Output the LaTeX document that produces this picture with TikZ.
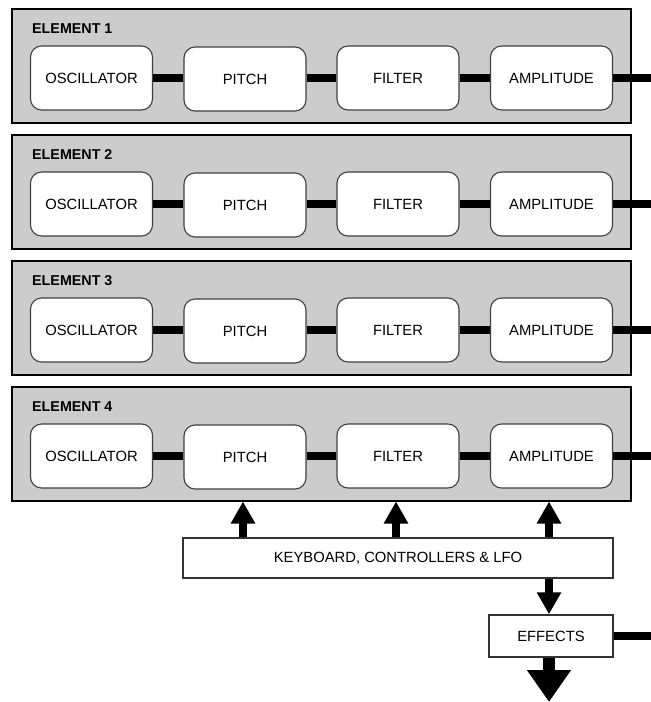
\documentclass[tikz,border=0pt]{standalone}
\usepackage{fontspec}
\setmainfont{Liberation Sans}
\usetikzlibrary{arrows.meta}
\begin{document}
\begin{tikzpicture}[x=1pt,y=-1pt,
  panel/.style={draw=black,line width=2pt,fill=black!20,minimum width=619pt,minimum height=114pt,inner sep=0pt},
  unit/.style={draw=black!75,line width=1.1pt,fill=white,rounded corners=11pt,minimum width=122pt,minimum height=64pt,inner sep=0pt,font=\fontsize{14.8}{17}\selectfont},
  plainbox/.style={draw=black!80,line width=1.4pt,fill=white,inner sep=0pt,font=\fontsize{14.8}{17}\selectfont},
  elabel/.style={anchor=west,inner sep=0pt,font=\bfseries\fontsize{14.3}{17}\selectfont},
  link/.style={line width=7.5pt},
  uparr/.style={line width=8pt,-{Triangle[width=23pt,length=22pt]}},
  bigarr/.style={line width=12pt,-{Triangle[width=42pt,length=32pt]}}
]
\useasboundingbox (0,0) rectangle (651,702);
\foreach \i/\t in {1/8,2/134,3/260,4/386}{
  \node[panel] (E\i) at (321.5,\t+57.5) {};
  \node[elabel] (L\i) at (32,\t+20.5) {ELEMENT \i};
  \node[unit] (o\i) at (91.5,\t+70) {OSCILLATOR};
  \node[unit] (p\i) at (245,\t+71) {PITCH};
  \node[unit] (f\i) at (398,\t+70) {FILTER};
  \node[unit] (a\i) at (551.5,\t+70) {AMPLITUDE};
  \coordinate (out\i) at (651,\t+70);
  \draw[link] (o\i) -- (p\i.west |- o\i);
  \draw[link] (p\i.east |- o\i) -- (f\i);
  \draw[link] (f\i) -- (a\i);
  \draw[link] (a\i.east) -- (out\i);
}
\node[plainbox,minimum width=430pt,minimum height=40pt] (kb) at (398,558) {KEYBOARD, CONTROLLERS \& LFO};
\node[plainbox,minimum width=124pt,minimum height=42pt] (fx) at (551,636) {EFFECTS};
\coordinate (fxout) at (651,636);
\coordinate (main) at (549,702);
\draw[uparr] ([xshift=-2pt]kb.north -| p4) -- ([xshift=-2pt]E4.south -| p4);
\draw[uparr] ([xshift=-2pt]kb.north -| f4) -- ([xshift=-2pt]E4.south -| f4);
\draw[uparr] ([xshift=-2.5pt]kb.north -| a4) -- ([xshift=-2.5pt]E4.south -| a4);
\draw[uparr] (kb.south -| main) -- (fx.north -| main);
\draw[line width=8pt] (fx.east) -- (fxout);
\draw[bigarr] (fx.south -| main) -- (main);
\end{tikzpicture}
\end{document}
